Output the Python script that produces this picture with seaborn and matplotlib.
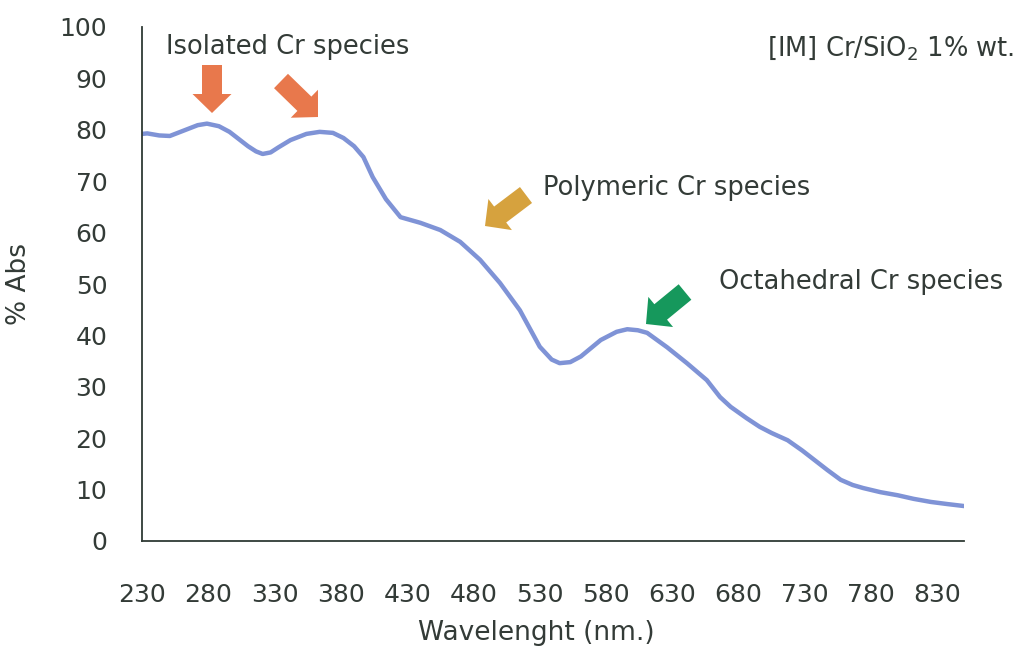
import numpy as np
import pandas as pd
import matplotlib
matplotlib.use("Agg")
import matplotlib.pyplot as plt
from matplotlib.patches import FancyArrow
from matplotlib.transforms import IdentityTransform
import seaborn as sns

# ---- data ----
wavelength = [230, 234, 243, 251, 258, 265, 272, 279, 288, 296, 303, 310, 316, 321, 327, 333, 342, 354, 364, 374, 382,
              390, 397, 404, 414, 425, 440, 455, 470, 485, 500, 515, 530, 539, 545,
              553, 561, 576, 588, 596, 604, 611, 626, 641, 656, 666, 674, 686,
              696, 705, 717, 728, 737, 747, 757, 766, 774, 787, 800, 812, 825, 837, 850]
absorbance = [79.2, 79.3, 78.9, 78.8, 79.5, 80.2, 80.9, 81.2, 80.7, 79.6, 78.2, 76.8, 75.8, 75.3, 75.6, 76.6, 78.0, 79.2, 79.6, 79.4, 78.4,
              76.8, 74.7, 70.8, 66.5, 63.0, 61.9, 60.5, 58.2, 54.7, 50.2, 44.9, 37.8, 35.3, 34.6,
              34.8, 35.9, 39.1, 40.7, 41.2, 41.0, 40.5, 37.7, 34.6, 31.3, 28.0, 26.1, 23.9,
              22.2, 21.0, 19.6, 17.6, 15.8, 13.8, 11.9, 10.9, 10.3, 9.5, 8.9, 8.2, 7.6, 7.2, 6.8]
x_ticks = [230, 280, 330, 380, 430, 480, 530, 580, 630, 680, 730, 780, 830]
y_ticks = [0, 10, 20, 30, 40, 50, 60, 70, 80, 90, 100]

df = pd.DataFrame({"Wavelength": wavelength, "Abs": absorbance})

sns.set_theme(style="white")
plt.rcParams["font.family"] = ["DejaVu Sans"]
text_color = "#333b37"

W, H, DPI = 1028, 649, 100
fig = plt.figure(figsize=(W / DPI, H / DPI), dpi=DPI)
ax = fig.add_axes([142 / W, 1 - 541 / H, (964 - 142) / W, (541 - 27) / H])

sns.lineplot(data=df, x="Wavelength", y="Abs", ax=ax, color="#7f93d6", linewidth=3.2)

ax.set_xlim(230, 850)
ax.set_ylim(0, 100)
ax.set_xticks(x_ticks)
ax.set_yticks(y_ticks)
ax.tick_params(axis="both", length=0, labelsize=18, colors=text_color)
ax.tick_params(axis="x", pad=30)
ax.tick_params(axis="y", pad=25)

for side in ["top", "right"]:
    ax.spines[side].set_visible(False)
for side in ["left", "bottom"]:
    ax.spines[side].set_color("#2f3a35")
    ax.spines[side].set_linewidth(1.3)

ax.set_xlabel("Wavelenght (nm.)", fontsize=19, color=text_color)
ax.set_ylabel("% Abs", fontsize=19, color=text_color)
ax.xaxis.set_label_coords(0.48, -0.153)
ax.yaxis.set_label_coords(-0.134, 0.5)

# annotations (figure pixel positions)
def ptxt(x, y, s, ha="left"):
    fig.text(x / W, 1 - y / H, s, ha=ha, va="center", fontsize=18.5, color=text_color)

ptxt(166, 47, "Isolated Cr species")
ptxt(1014, 48, r"[IM] Cr/SiO$_2$ 1% wt.", ha="right")
ptxt(543, 188, "Polymeric Cr species")
ptxt(719, 282, "Octahedral Cr species")

def parrow(tail, tip, color, width=20, head_width=39, head_length=19):
    x0, y0 = tail[0], H - tail[1]
    x1, y1 = tip[0], H - tip[1]
    arr = FancyArrow(x0, y0, x1 - x0, y1 - y0, width=width, head_width=head_width,
                     head_length=head_length, length_includes_head=True,
                     transform=IdentityTransform(), color=color, lw=0)
    fig.add_artist(arr)

orange = "#e8784c"
parrow((212, 65), (212, 113), orange)
parrow((281, 81), (318, 117), orange)
parrow((526, 195), (485, 226), "#d6a23e")
parrow((685, 292), (646, 324), "#16985c")

fig.savefig("out.png", dpi=DPI, facecolor="white")
